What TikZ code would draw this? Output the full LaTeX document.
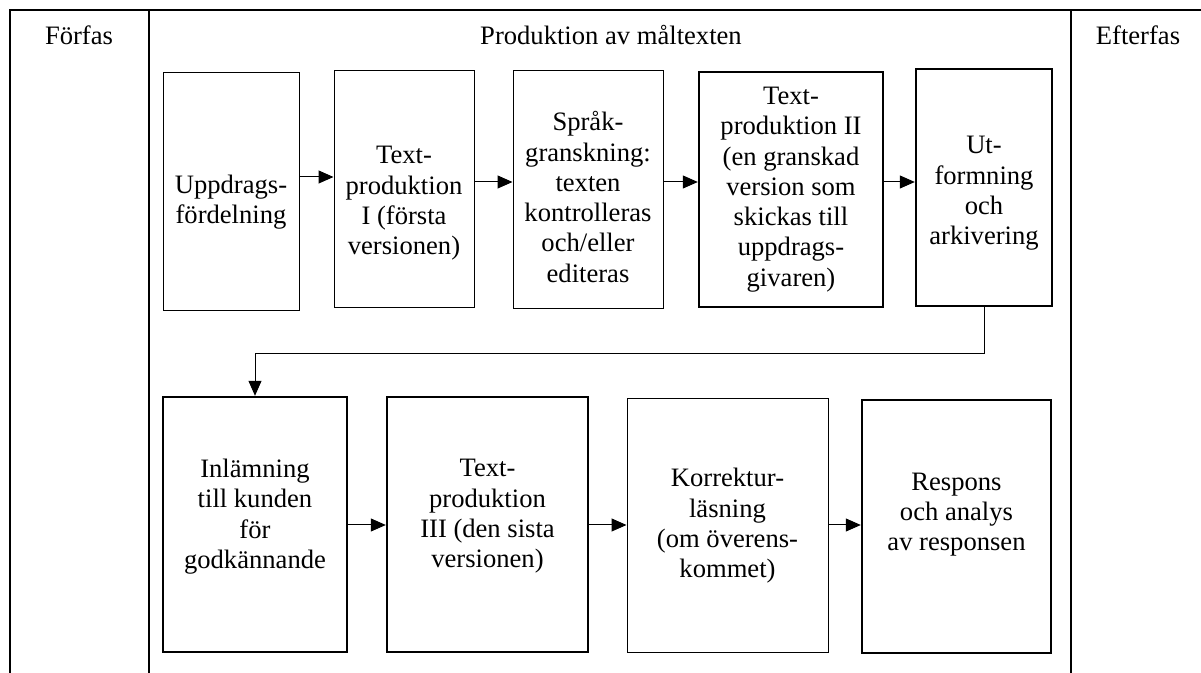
\documentclass[tikz,border=0pt]{standalone}
\usepackage{fontspec}
\setmainfont{Liberation Serif}
\usetikzlibrary{arrows.meta}
\begin{document}
\begin{tikzpicture}[x=0.5pt,y=-0.5pt,
  frame/.style={line width=1.3pt},
  thinbox/.style={draw, line width=0.5pt, inner sep=0pt},
  thickbox/.style={thinbox, line width=1.2pt},
  txt/.style={align=center, inner sep=0pt, font=\fontsize{13.3}{15.15}\selectfont},
  lbl/.style={anchor=base, inner sep=0pt, font=\fontsize{13.3}{15.15}\selectfont},
  conn/.style={line width=0.5pt, -{Triangle[length=7.5pt,width=6.5pt]}}]
\useasboundingbox (0,0) rectangle (1201,673);
\fill[white] (0,0) rectangle (1201,673);

% frame
\draw[frame] (10,673) -- (10,10) -- (1201,10);
\draw[frame] (149,10) -- (149,673);
\draw[frame] (1071,10) -- (1071,673);

% headings
\node[lbl] (pre) at (79,45) {Förfas};
\node[lbl] (prod) at (611,45) {Produktion av måltexten};
\node[lbl] (post) at (1138,45) {Efterfas};

% top row boxes
\node[thinbox, minimum width=68pt, minimum height=119pt] (b1) at (231,192) {};
\node[thinbox, minimum width=70pt, minimum height=118.5pt] (b2) at (404,189.5) {};
\node[thinbox, minimum width=75pt, minimum height=119pt] (b3) at (588,190) {};
\node[thickbox, minimum width=92pt, minimum height=117.5pt] (b4) at (791,189.5) {};
\node[thickbox, minimum width=68pt, minimum height=118.5pt] (b5) at (984,187.5) {};

% bottom row boxes
\node[thickbox, minimum width=92pt, minimum height=127.5pt] (b6) at (255,524.5) {};
\node[thickbox, minimum width=100.5pt, minimum height=127.5pt] (b7) at (487.5,524.5) {};
\node[thinbox, minimum width=100.5pt, minimum height=127pt] (b8) at (727.5,526) {};
\node[thickbox, minimum width=94.5pt, minimum height=126.5pt] (b9) at (956.5,526.5) {};

% box texts
\node[txt] (t1) at ([yshift=-5pt]b1.center) {Uppdrags-\\fördelning};
\node[txt] (t2) at ([yshift=-7pt]b2.center) {Text-\\produktion\\I (första\\versionen)};
\node[txt] (t3) at ([yshift=-3.5pt]b3.center) {Språk-\\granskning:\\texten\\kontrolleras\\och/eller\\editeras};
\node[txt] (t4) at (b4.center) {Text-\\produktion II\\(en granskad\\version som\\skickas till\\uppdrags-\\givaren)};
\node[txt] (t5) at ([yshift=-3pt]b5.center) {Ut-\\formning\\och\\arkivering};
\node[txt] (t6) at ([yshift=4pt]b6.center) {Inlämning\\till kunden\\för\\godkännande};
\node[txt] (t7) at ([yshift=4pt]b7.center) {Text-\\produktion\\III (den sista\\versionen)};
\node[txt] (t8) at (b8.center) {Korrektur-\\läsning\\(om överens-\\kommet)};
\node[txt] (t9) at ([yshift=6pt]b9.center) {Respons\\och analys\\av responsen};

% connectors
\draw[conn] (b1.east |- 0,177) -- (b2.west |- 0,177);
\draw[conn] (b2.east |- 0,182) -- (b3.west |- 0,182);
\draw[conn] (b3.east |- 0,182) -- (b4.west |- 0,182);
\draw[conn] (b4.east |- 0,182) -- (b5.west |- 0,182);
\draw[conn] (b5.south) -- ++(0,46) -| (b6.north);
\draw[conn] (b6.east |- 0,525) -- (b7.west |- 0,525);
\draw[conn] (b7.east |- 0,525) -- (b8.west |- 0,525);
\draw[conn] (b8.east |- 0,525) -- (b9.west |- 0,525);
\end{tikzpicture}
\end{document}
